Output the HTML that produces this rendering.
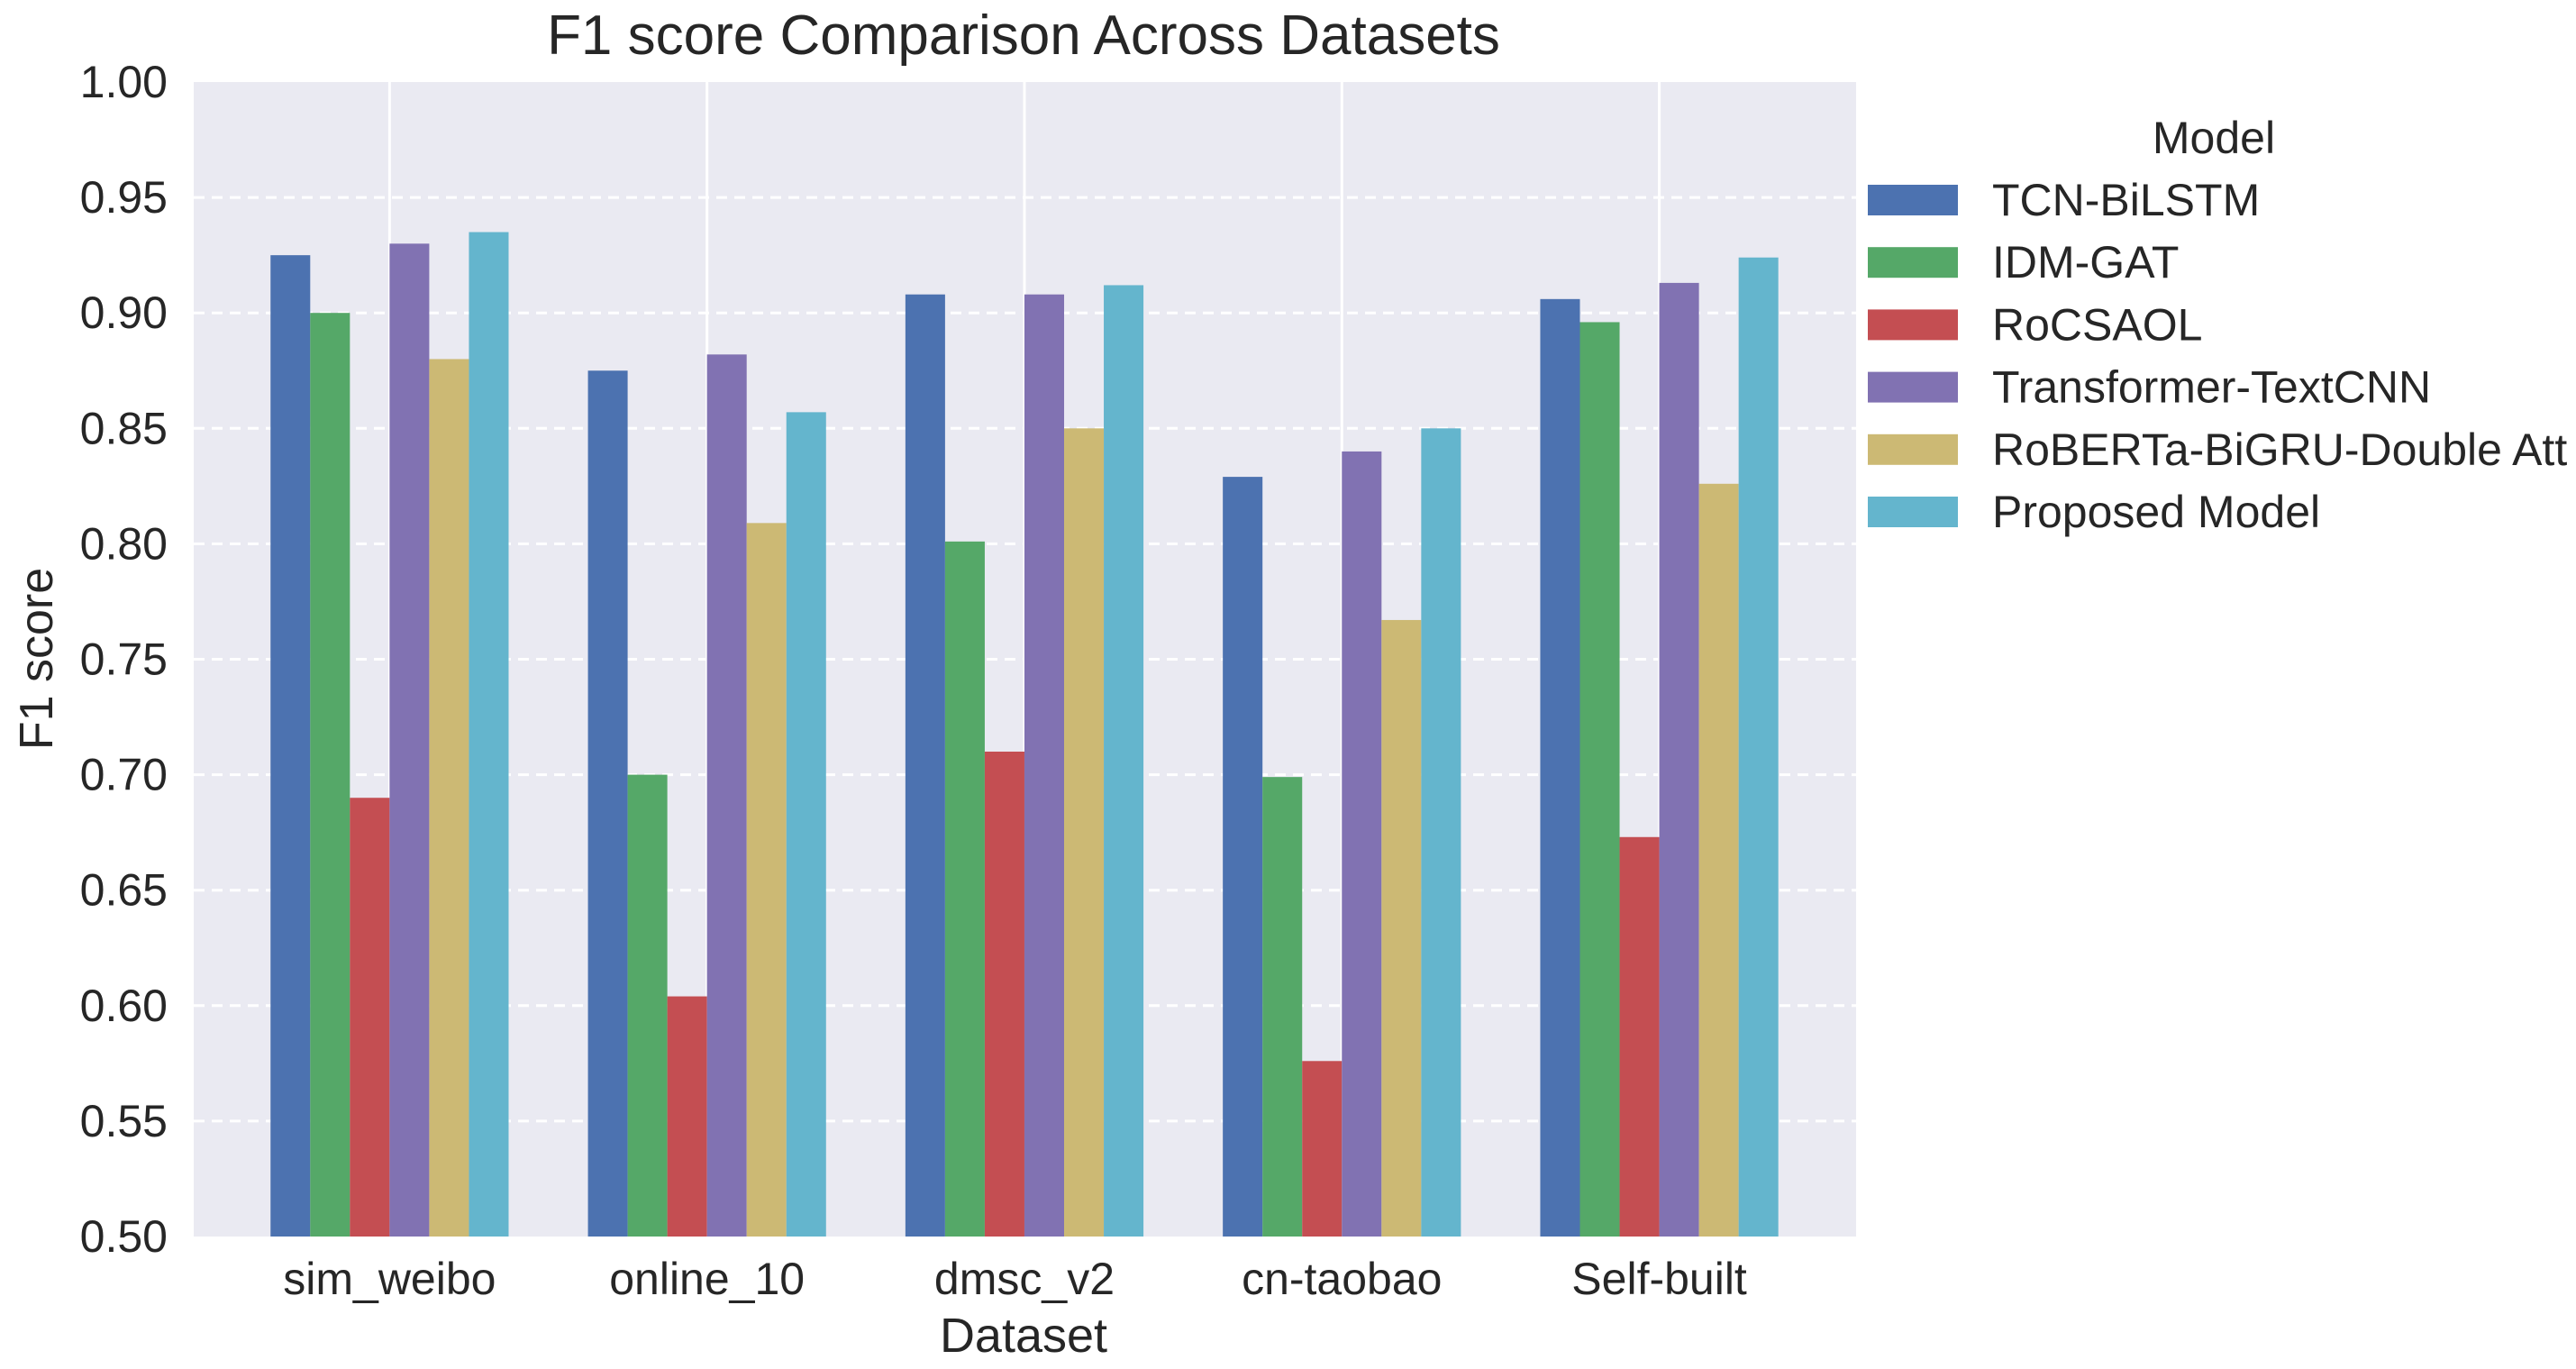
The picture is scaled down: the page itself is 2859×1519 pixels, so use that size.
<!DOCTYPE html>
<html><head><meta charset="utf-8"><style>
html,body{margin:0;padding:0;background:#fff;}
svg{display:block;font-family:"Liberation Sans",Arial,sans-serif;}
</style></head><body>
<svg id="chart" width="2859" height="1519" viewBox="0 0 2859 1519" xmlns="http://www.w3.org/2000/svg">
<rect x="215" y="91" width="1845" height="1281" fill="#eaeaf2"/>
<g id="grid"></g>
<g id="bars"></g>
<g id="yticks"></g>
<g id="xticks"></g>
<text x="1136" y="60" font-size="62" text-anchor="middle" fill="#262626">F1  score Comparison Across Datasets</text>
<text x="1136" y="1500" font-size="54" text-anchor="middle" fill="#262626">Dataset</text>
<text transform="translate(58,731) rotate(-90)" font-size="52" text-anchor="middle" fill="#262626">F1  score</text>
<g id="legend">
<text x="2457" y="170" font-size="50" text-anchor="middle" fill="#262626">Model</text>
</g>
</svg>
<script>
const categories = ["sim_weibo","online_10","dmsc_v2","cn-taobao","Self-built"];
const models = ["TCN-BiLSTM","IDM-GAT","RoCSAOL","Transformer-TextCNN","RoBERTa-BiGRU-Double Att","Proposed Model"];
const tcnBilstm = [0.925,0.875,0.908,0.829,0.906];
const idmGat = [0.900,0.700,0.801,0.699,0.896];
const rocsaol = [0.690,0.604,0.710,0.576,0.673];
const transformerTextcnn = [0.930,0.882,0.908,0.840,0.913];
const robertaBigru = [0.880,0.809,0.850,0.767,0.826];
const proposedModel = [0.935,0.857,0.912,0.850,0.924];
const yTicks = ["0.50","0.55","0.60","0.65","0.70","0.75","0.80","0.85","0.90","0.95","1.00"];
const series = [tcnBilstm,idmGat,rocsaol,transformerTextcnn,robertaBigru,proposedModel];
const colors = ["#4c72b0","#55a868","#c44e52","#8172b2","#ccb974","#64b5cd"];

const NS="http://www.w3.org/2000/svg";
const L=215,R=2060,T=91,B=1372,yMin=0.5,yMax=1.0,xMin=-0.617,xMax=categories.length-1+0.62;
function yS(v){return B-(v-yMin)/(yMax-yMin)*(B-T);}
function xS(i){return L+(i-xMin)/(xMax-xMin)*(R-L);}
function mk(tag,attrs,parent){const e=document.createElementNS(NS,tag);for(const k in attrs)e.setAttribute(k,attrs[k]);parent.appendChild(e);return e;}
const grid=document.getElementById('grid'),bars=document.getElementById('bars'),yt=document.getElementById('yticks'),xt=document.getElementById('xticks'),lg=document.getElementById('legend');
yTicks.forEach(t=>{const v=parseFloat(t),y=yS(v);
 if(v>yMin&&v<yMax){const ln=mk('line',{x1:L,x2:R,y1:y,y2:y,stroke:'#ffffff','stroke-width':3,'stroke-dasharray':'12 8'},grid);
 
 }
 const tx=mk('text',{x:186,y:y+17,'font-size':50,'text-anchor':'end',fill:'#262626'},yt);tx.textContent=t;
 
 
});
const bw=(xS(1)-xS(0))*0.75/models.length;
categories.forEach((c,i)=>{const cx=xS(i);
 const vl=mk('line',{x1:cx,x2:cx,y1:T,y2:B,stroke:'#ffffff','stroke-width':3},grid);
 
 
 const tx=mk('text',{x:cx,y:1436,'font-size':50,'text-anchor':'middle',fill:'#262626'},xt);tx.textContent=c;
 
 
 series.forEach((s,j)=>{const x0=cx-bw*models.length/2+j*bw,y=yS(s[i]);
  const r=mk('rect',{x:x0,y:y,width:bw,height:B-y,fill:colors[j]},bars);
  
  
 });
});
models.forEach((m,j)=>{const y=222+j*69.2;
 const p=mk('rect',{x:2073,y:y-17,width:100,height:34,fill:colors[j]},lg);
 
 
 const t=mk('text',{x:2211,y:y+17,'font-size':50,fill:'#262626'},lg);t.textContent=m;
 
 
});
</script>
</body></html>
